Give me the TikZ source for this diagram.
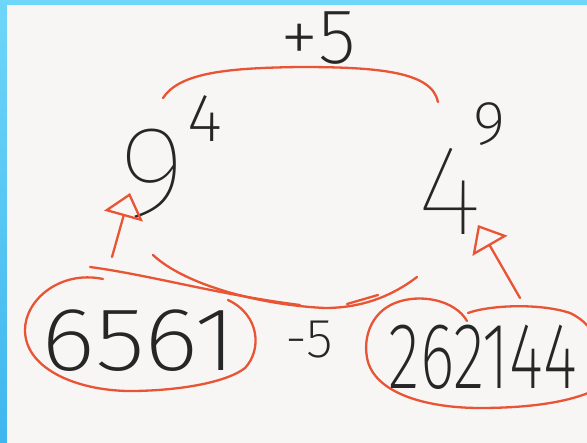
\documentclass[tikz,border=0pt]{standalone}
\usepackage{fontspec}
\newfontfamily\hand{Fira Sans}[UprightFont={* Thin}]
\newfontfamily\handmid{Fira Sans}[UprightFont={* ExtraLight}]
\usetikzlibrary{arrows.meta}
\definecolor{pen}{RGB}{232,84,52}
\definecolor{ink}{RGB}{38,38,38}
\definecolor{board}{RGB}{247,246,244}
\definecolor{frametop}{RGB}{110,214,248}
\definecolor{framebot}{RGB}{62,182,238}
\begin{document}
\begin{tikzpicture}[x=1pt, y=-1pt,
  red line/.style={draw=pen, line width=2.3pt, line cap=round, line join=round},
  up arrow/.style={red line, -{Triangle[open, length=24pt, width=40pt]}},
  digits/.style={inner sep=0pt, anchor=base, text=ink, font=\hand\fontsize{#1}{#1}\selectfont},
  middigits/.style={digits, font=\handmid\fontsize{#1}{#1}\selectfont}]
\useasboundingbox (0,0) rectangle (587,443);
% board with the blue frame
\fill[frametop] (0,0) rectangle (587,443);
\shade[top color=frametop, bottom color=framebot] (0,0) rectangle (7,443);
\fill[board] (7,5.5) rectangle (587,443);

\node[middigits=78] (plus) at (318,64) {+5};
\node[digits=130] (nine) at (153,217) {9};
\node[middigits=68] (expfour) at (205,142) {4};
\node[digits=128] (four) at (450,235) {4};
\node[middigits=62] (expnine) at (489,145) {9};
\node[middigits=90] (small) at (139,371) {\scalebox{1.15}[1]{6561}};
\node[middigits=55] (minus) at (309,358) {-5};
\node[middigits=94] (big) at (483,389) {\scalebox{0.7}[1]{262144}};

% arcs
\draw[red line] (163,98) .. controls (180,72) and (230,68) .. (300,67)
  .. controls (380,67) and (432,72) .. (438,102);
\draw[red line] (153,255) .. controls (185,285) and (260,305) .. (325,308)
  .. controls (370,308) and (400,290) .. (417,277);
\draw[red line] (90,267) .. controls (150,275) and (220,295) .. (300,305);
\draw[red line] (347,304) -- (378,295);

% loops round the numbers
\draw[red line] (103,279) .. controls (60,270) and (25,300) .. (25,330)
  .. controls (25,370) and (80,392) .. (135,391)
  .. controls (190,390) and (230,380) .. (245,368)
  .. controls (262,350) and (260,315) .. (228,300);
\draw[red line] (467,321) .. controls (455,300) and (420,293) .. (395,303)
  .. controls (370,313) and (362,340) .. (368,362)
  .. controls (378,395) and (430,408) .. (480,408)
  .. controls (530,408) and (570,402) .. (595,390);
\draw[red line] (468,313) .. controls (490,305) and (540,303) .. (570,313)
  .. controls (585,320) and (592,330) .. (596,340);

% arrows
\coordinate (tailnine) at (112,257);
\coordinate (tipnine) at (130,193);
\coordinate (tailfour) at (520,298);
\coordinate (tipfour) at (478,225);
\draw[up arrow] (tailnine) -- (tipnine);
\draw[up arrow] (tailfour) -- (tipfour);
\end{tikzpicture}
\end{document}
